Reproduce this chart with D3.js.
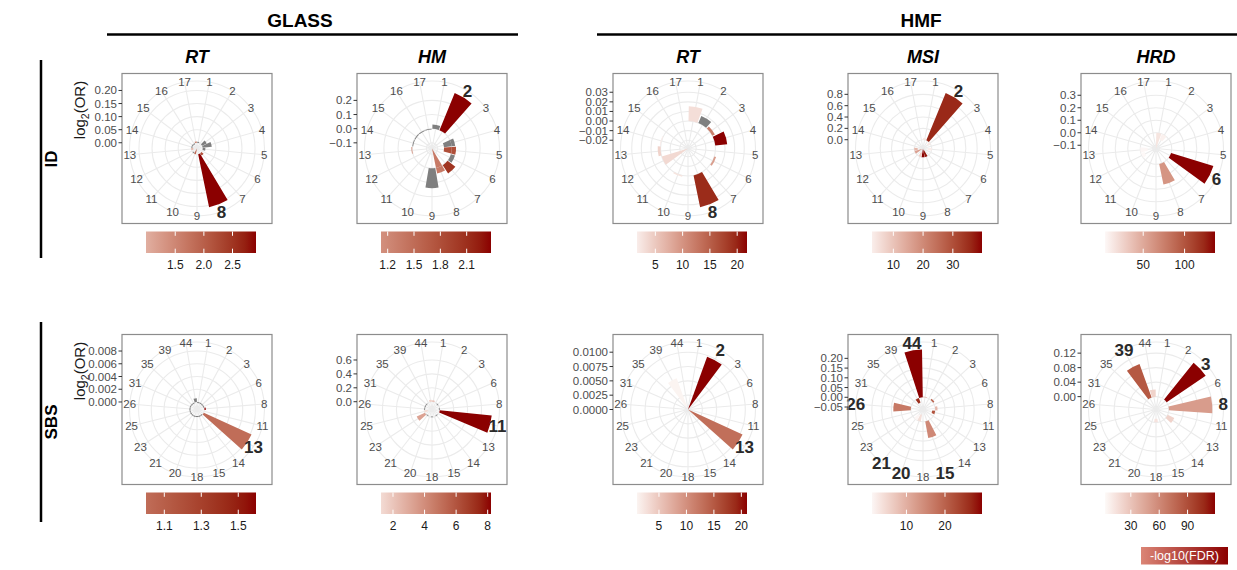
<!DOCTYPE html>
<html>
<head>
<meta charset="utf-8">
<script src="https://cdn.jsdelivr.net/npm/d3@7"></script>
<style>
  body { margin: 0; background: #fff; }
  svg { font-family: "Liberation Sans", Arial, Helvetica, sans-serif; }
</style>
</head>
<body>
<div id="chart"></div>
<script>
// ---- categories ----
const idCats = d3.range(1, 18).map(String);
const sbsCats = ["1","2","3","6","8","11","13","14","15","18","20","21","23","25","26","31","35","39","44"];

// ---- bars: [signature, log2(OR), -log10(FDR) or null for n.s.] ----
const idGlassRT = [
  ["17", 0.005, 1.6], ["1", 0.004, null], ["3", 0.02, null], ["4", 0.035, null],
  ["5", 0.01, null], ["7", 0.01, 2.2], ["8", 0.2075, 2.91], ["10", -0.022, 1.9],
  ["13", -0.008, 0.99], ["11", -0.004, null], ["14", -0.004, null], ["15", -0.004, null],
  ["16", -0.004, null]
];
const idGlassHM = [
  ["1", 0.03, null], ["2", 0.284, 2.377], ["4", 0.025, null], ["4", -0.055, null],
  ["5", 0.03, 1.8], ["5", -0.055, 1.8], ["6", 0.03, null], ["7", 0.07, 2.05],
  ["8", 0.04, 1.35], ["8", -0.14, 1.35], ["9", 0.14, null], ["13", 0.006, 1.124],
  ["14", -0.006, null], ["15", -0.006, null], ["16", -0.006, null], ["17", -0.006, null]
];
const idHmfRT = [
  ["1", 0.0155, 3.0], ["2", 0.008, null], ["3", 0.003, 12], ["4", 0.0125, 21.8],
  ["6", 0.002, 9], ["8", 0.0339, 19.5], ["10", 0.0015, 2.5], ["12", -0.0286, 3.5],
  ["13", 0.003, 4], ["14", 0.001, 1.64]
];
const idHmfMSI = [
  ["1", 0.03, 4], ["2", 0.903, 36], ["3", -0.05, 3.5], ["5", -0.07, 2.83],
  ["8", -0.12, 38], ["9", -0.155, 39.8], ["10", -0.08, 8], ["12", -0.13, 16],
  ["13", -0.06, 12]
];
const idHmfHRD = [
  ["1", -0.126, 15], ["2", -0.05, 8], ["6", 0.354, 136.8], ["8", 0.169, 62],
  ["12", -0.03, 3.8], ["13", -0.06, 5]
];
const sbsGlassRT = [
  ["44", 0.0006, null], ["8", 0.0002, 1.596], ["13", 0.00824, 1.001],
  ["1", -0.00015, null], ["2", -0.00015, null], ["3", -0.00015, null], ["6", -0.00015, null],
  ["14", -0.00015, null], ["15", -0.00015, null], ["18", -0.00015, null], ["20", -0.00015, null],
  ["21", -0.00015, null], ["23", -0.00015, null], ["25", -0.00015, null], ["26", -0.00015, null],
  ["31", -0.00015, null], ["35", -0.00015, null], ["39", -0.00015, null]
];
const sbsGlassHM = [
  ["44", 0.03, 1.5], ["1", 0.02, 2.2], ["11", 0.751, 8.21], ["23", 0.13, 3.2],
  ["25", -0.05, 1.24],
  ["3", -0.012, null], ["8", -0.012, null], ["14", -0.012, null], ["18", -0.012, null],
  ["21", -0.012, null], ["26", -0.012, null], ["31", -0.012, null], ["35", -0.012, null]
];
const sbsHmfRT = [
  ["2", 0.0098, 21.03], ["13", 0.01047, 13], ["39", 0.0058, 1.0]
];
const sbsHmfMSI = [
  ["1", 0.004, 8], ["3", 0.008, 20], ["8", 0.012, 9], ["11", -0.015, 22],
  ["15", 0.086, 15], ["20", -0.035, 4], ["21", -0.03, 1.07], ["26", 0.09, 17],
  ["39", -0.025, 26], ["44", 0.2455, 29.6]
];
const sbsHmfHRD = [
  ["3", 0.13, 119], ["8", 0.12, 50], ["39", 0.098, 85], ["44", 0.02, 22],
  ["13", 0.02, 22], ["18", -0.01, 14], ["2", -0.005, 2.7]
];

// ---- radial limits and breaks ----
const rLimits = [
  [-0.022, 0.2075], [-0.14, 0.284], [-0.0286, 0.0339], [-0.155, 0.903], [-0.126, 0.354],
  [-0.00118, 0.00824], [-0.112, 0.751], [0, 0.01047], [-0.0627, 0.2455], [-0.0355, 0.13]
];
const yBreaks = [
  [0, 0.05, 0.10, 0.15, 0.20], [-0.1, 0, 0.1, 0.2], [-0.02, -0.01, 0, 0.01, 0.02, 0.03],
  [0, 0.2, 0.4, 0.6, 0.8], [-0.1, 0, 0.1, 0.2, 0.3],
  [0, 0.002, 0.004, 0.006, 0.008], [0, 0.2, 0.4, 0.6], [0, 0.0025, 0.005, 0.0075, 0.01],
  [-0.05, 0, 0.05, 0.10, 0.15, 0.20], [0, 0.04, 0.08, 0.12]
];
const yFormats = [".2f", ".1f", ".2f", ".1f", ".1f", ".3f", ".1f", ".4f", ".2f", ".2f"];
const fillTicks = [
  [1.5, 2.0, 2.5], [1.2, 1.5, 1.8, 2.1], [5, 10, 15, 20], [10, 20, 30], [50, 100],
  [1.1, 1.3, 1.5], [2, 4, 6, 8], [5, 10, 15, 20], [10, 20], [30, 60, 90]
];
const fillFormats = [".1f", ".1f", "d", "d", "d", ".1f", "d", "d", "d", "d"];
const boldLabels = [["8"], ["2"], ["8"], ["2"], ["6"], ["13"], ["11"], ["2", "13"],
  ["44", "26", "21", "20", "15"], ["39", "3", "8"]];

const colTitles = ["RT", "HM", "RT", "MSI", "HRD"];
const rowTitles = ["ID", "SBS"];
const panelData = [idGlassRT, idGlassHM, idHmfRT, idHmfMSI, idHmfHRD,
  sbsGlassRT, sbsGlassHM, sbsHmfRT, sbsHmfMSI, sbsHmfHRD];

// ---- layout ----
const W = 1237, H = 570, S = 150;
const colX = [122, 357, 613, 848, 1081];
const rowY = [73.5, 334.5];

const svg = d3.select("#chart").append("svg")
  .attr("width", W).attr("height", H);

// group headers
const groups = [
  { name: "GLASS", x: 300, x1: 107, x2: 518 },
  { name: "HMF", x: 921, x1: 597, x2: 1237 }
];
groups.forEach(gr => {
  svg.append("text").attr("x", gr.x).attr("y", 27)
    .attr("text-anchor", "middle").attr("font-size", 19).attr("font-weight", "bold")
    .text(gr.name);
  svg.append("line").attr("x1", gr.x1).attr("x2", gr.x2).attr("y1", 34.5).attr("y2", 34.5)
    .attr("stroke", "#000").attr("stroke-width", 2.5);
});

// row headers
const rowSpans = [[60, 258], [322, 522]];
rowTitles.forEach((t, i) => {
  const [ya, yb] = rowSpans[i];
  svg.append("line").attr("x1", 41).attr("x2", 41).attr("y1", ya).attr("y2", yb)
    .attr("stroke", "#000").attr("stroke-width", 2.5);
  svg.append("text")
    .attr("transform", `translate(51,${(ya + yb) / 2}) rotate(-90)`)
    .attr("text-anchor", "middle").attr("dy", "0.35em")
    .attr("font-size", 17).attr("font-weight", "bold").text(t);
});

// column titles
colTitles.forEach((t, i) => {
  svg.append("text").attr("x", colX[i] + S / 2).attr("y", 63)
    .attr("text-anchor", "middle").attr("font-size", 18)
    .attr("font-weight", "bold").attr("font-style", "italic").text(t);
});

// y titles
rowY.forEach((y0, i) => {
  const t = svg.append("text")
    .attr("transform", `translate(85,${i === 0 ? 110 : 371}) rotate(-90)`)
    .attr("text-anchor", "middle").attr("font-size", 15).attr("fill", "#1a1a1a");
  t.append("tspan").text("log");
  t.append("tspan").attr("font-size", 10.5).attr("dy", 4).text("2");
  t.append("tspan").attr("dy", -4).text("(OR)");
});

const defs = svg.append("defs");

panelData.forEach((rows, k) => drawPanel(k, rows));

function drawPanel(k, rows) {
  const col = k % 5, row = Math.floor(k / 5);
  const x0 = colX[col], y0 = rowY[row];
  const cx = x0 + S / 2, cy = y0 + S / 2;
  const cats = row === 0 ? idCats : sbsCats;
  const outer = 0.45 * S;

  const theta = d3.scaleBand().domain(cats).range([0, 2 * Math.PI])
    .paddingInner(0.1).paddingOuter(0.05);
  const mid = c => theta(c) + theta.bandwidth() / 2;
  const r = d3.scaleLinear().domain(rLimits[k]).range([0, 0.4 * S]);

  const fExt = d3.extent(rows.filter(d => d[2] != null), d => d[2]);
  const color = d3.scaleLinear().domain([0, fExt[1]])
    .range(["#ffffff", "#8b0000"]).interpolate(d3.interpolateLab);

  const g = svg.append("g");
  g.append("rect").attr("x", x0).attr("y", y0).attr("width", S).attr("height", S)
    .attr("fill", "#fff");

  const pg = g.append("g").attr("transform", `translate(${cx},${cy})`);

  // grid circles
  pg.selectAll("circle.grid")
    .data(yBreaks[k].map(v => r(v)).concat([outer]))
    .join("circle").attr("class", "grid")
    .attr("r", d => d).attr("fill", "none")
    .attr("stroke", "#ebebeb").attr("stroke-width", 1.1);

  // spokes
  pg.selectAll("line.spoke").data(cats).join("line").attr("class", "spoke")
    .attr("x1", 0).attr("y1", 0)
    .attr("x2", c => outer * Math.sin(mid(c)))
    .attr("y2", c => -outer * Math.cos(mid(c)))
    .attr("stroke", "#ebebeb").attr("stroke-width", 1.1);

  // bars
  const arc = d3.arc();
  pg.selectAll("path.bar").data(rows).join("path").attr("class", "bar")
    .attr("d", d => arc({
      innerRadius: r(Math.min(0, d[1])),
      outerRadius: r(Math.max(0, d[1])),
      startAngle: theta(d[0]),
      endAngle: theta(d[0]) + theta.bandwidth()
    }))
    .attr("fill", d => d[2] == null ? "#7f7f7f" : color(d[2]));

  // angular labels
  const bold = boldLabels[k];
  pg.selectAll("text.lab").data(cats).join("text").attr("class", "lab")
    .attr("x", c => outer * Math.sin(mid(c)))
    .attr("y", c => -outer * Math.cos(mid(c)))
    .attr("text-anchor", "middle").attr("dy", "0.36em")
    .attr("font-size", c => bold.includes(c) ? 17 : 11.5)
    .attr("font-weight", c => bold.includes(c) ? "bold" : "normal")
    .attr("fill", c => bold.includes(c) ? "#2a2a2a" : "#4d4d4d")
    .text(c => c);

  // border
  g.append("rect").attr("x", x0).attr("y", y0).attr("width", S).attr("height", S)
    .attr("fill", "none").attr("stroke", "#8c8c8c").attr("stroke-width", 1.2);

  // radial axis on the left
  const fmt = d3.format(yFormats[k]);
  const ax = g.append("g");
  yBreaks[k].forEach(v => {
    const y = cy - r(v);
    ax.append("line").attr("x1", x0 - 3.5).attr("x2", x0).attr("y1", y).attr("y2", y)
      .attr("stroke", "#333").attr("stroke-width", 1);
    ax.append("text").attr("x", x0 - 5).attr("y", y).attr("dy", "0.35em")
      .attr("text-anchor", "end").attr("font-size", 11.5).attr("fill", "#4d4d4d")
      .text(fmt(v));
  });

  // colorbar
  const bw = 110, bh = 21.5;
  const bx = cx + 4 - bw / 2, by = y0 + S + 8;
  const gid = "grad" + k;
  const grad = defs.append("linearGradient").attr("id", gid)
    .attr("x1", "0%").attr("x2", "100%").attr("y1", "0%").attr("y2", "0%");
  d3.range(0, 1.0001, 0.1).forEach(t => {
    grad.append("stop").attr("offset", (t * 100) + "%")
      .attr("stop-color", color(fExt[0] + t * (fExt[1] - fExt[0])));
  });
  g.append("rect").attr("x", bx).attr("y", by).attr("width", bw).attr("height", bh)
    .attr("fill", `url(#${gid})`);
  const fx = d3.scaleLinear().domain(fExt).range([bx, bx + bw]);
  const ffmt = d3.format(fillFormats[k]);
  fillTicks[k].forEach(v => {
    const x = fx(v);
    g.append("line").attr("x1", x).attr("x2", x).attr("y1", by).attr("y2", by + bh / 5)
      .attr("stroke", "#fff").attr("stroke-width", 1);
    g.append("line").attr("x1", x).attr("x2", x).attr("y1", by + bh - bh / 5).attr("y2", by + bh)
      .attr("stroke", "#fff").attr("stroke-width", 1);
    g.append("text").attr("x", x).attr("y", by + bh + 12).attr("dy", "0.35em")
      .attr("text-anchor", "middle").attr("font-size", 12).attr("fill", "#1a1a1a")
      .text(ffmt(v));
  });
}

// legend key for fill
const kg = defs.append("linearGradient").attr("id", "keyGrad")
  .attr("x1", "0%").attr("x2", "100%").attr("y1", "0%").attr("y2", "0%");
kg.append("stop").attr("offset", "0%").attr("stop-color", "#db8576");
kg.append("stop").attr("offset", "100%").attr("stop-color", "#8b0000");
svg.append("rect").attr("x", 1141).attr("y", 547).attr("width", 87).attr("height", 17.5)
  .attr("fill", "url(#keyGrad)");
svg.append("text").attr("x", 1184.5).attr("y", 556).attr("dy", "0.35em")
  .attr("text-anchor", "middle").attr("font-size", 12.5).attr("fill", "#fff")
  .text("-log10(FDR)");
</script>
</body>
</html>
